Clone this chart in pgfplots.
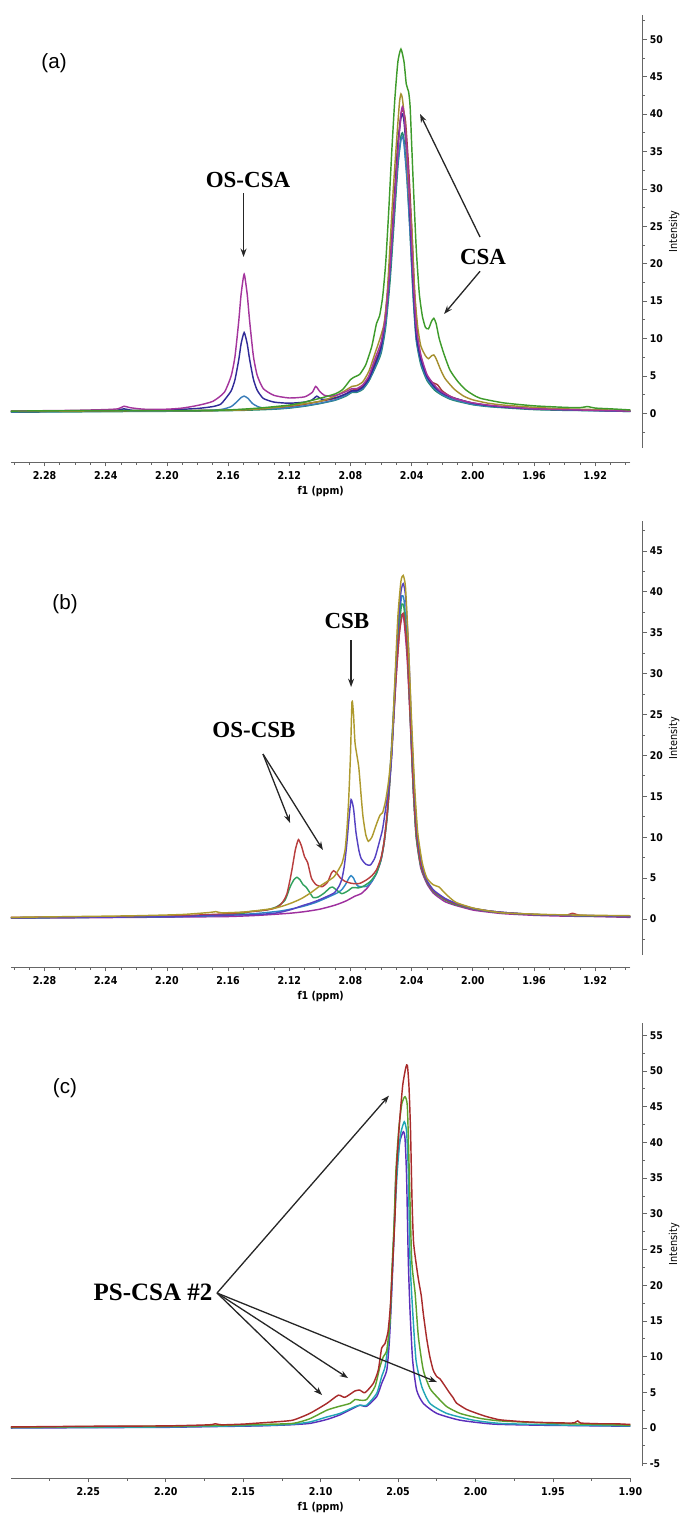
\documentclass[border=0pt]{standalone}
\usepackage{fontspec}
\setmainfont{Liberation Serif}
\newfontfamily\axfont{DejaVu Sans}[FakeStretch=0.88]
\newfontfamily\panfont{Liberation Sans}
\usepackage{pgfplots}
\pgfplotsset{compat=1.18}
\usetikzlibrary{arrows.meta}

\definecolor{agreen}{HTML}{3E9B2B}
\definecolor{agold}{HTML}{A58F2F}
\definecolor{amag}{HTML}{A4359D}
\definecolor{anavy}{HTML}{302A98}
\definecolor{asteel}{HTML}{3A7DB8}
\definecolor{ared}{HTML}{A33B3B}
\definecolor{ateal}{HTML}{23896B}
\definecolor{bgold}{HTML}{AE9A2E}
\definecolor{bblue}{HTML}{5542C2}
\definecolor{bred}{HTML}{B83E3E}
\definecolor{bgreen}{HTML}{31A15E}
\definecolor{bsteel}{HTML}{2F88C6}
\definecolor{bmag}{HTML}{9E2F9E}
\definecolor{cred}{HTML}{A82B2B}
\definecolor{cgreen}{HTML}{5DA12D}
\definecolor{ccyan}{HTML}{22A6B6}
\definecolor{cpurple}{HTML}{5B2FBB}

\newcommand\tickfont{\axfont\bfseries\fontsize{5.4}{6}\selectfont}

\tikzset{
  annot/.style={font=\bfseries\fontsize{11.5}{12}\selectfont},
  panel/.style={font=\panfont\fontsize{10.3}{11}\selectfont},
  arr/.style={-{Stealth[length=4.2pt,width=3pt]}, line width=0.65pt, black!85},
}

\pgfplotsset{
  nmr/.style={scale only axis, width=309.75pt, x dir=reverse,
    axis x line*=bottom, axis y line=none,
    axis line style={-,black!60,line width=0.5pt},
    xtick align=outside, major tick length=2.2pt, minor tick length=1.3pt,
    tick style={black!60,line width=0.4pt},
    /pgf/number format/assume math mode=true,
    xticklabel style={font=\tickfont, inner sep=0pt, yshift=-2.2pt},
    xticklabel={\pgfmathprintnumber[fixed,fixed zerofill,precision=2]{\tick}},
    xlabel={f1 (ppm)},
    xlabel style={font=\tickfont, at={(axis description cs:0.5,0)}, anchor=center, yshift=-15pt},
    clip=false,
    every axis plot/.append style={line width=0.72pt, smooth, tension=0.35, mark=none}},
  yside/.style={scale only axis, width=20pt, xmin=0, xmax=1,
    axis x line=none, axis y line*=right,
    axis line style={-,black!60,line width=0.5pt},
    ytick align=outside, major tick length=2.2pt, minor tick length=1.3pt,
    tick style={black!60,line width=0.4pt},
    /pgf/number format/assume math mode=true,
    yticklabel style={font=\axfont\bfseries\fontsize{5.3}{6}\selectfont, inner sep=0pt, anchor=west, xshift=1.2pt}},
}

\begin{document}
\begin{tikzpicture}

% ---------------- (a) ----------------
\begin{axis}[nmr, at={(5.45pt,-231pt)}, anchor=south west, height=223.5pt,
  xmin=1.897, xmax=2.302, ymin=-6.51, ymax=53.25,
  xtick={1.92,1.96,2.00,2.04,2.08,2.12,2.16,2.20,2.24,2.28},
  minor xtick={1.90,1.91,...,2.30}]
\addplot[ateal] coordinates {(2.302,0.15) (2.26,0.2) (2.22,0.25) (2.18,0.3) (2.15,0.4) (2.13,0.55) (2.12,0.7) (2.11,0.95) (2.10,1.3) (2.09,1.75) (2.083,2.3) (2.079,2.8) (2.076,2.8) (2.072,3.2) (2.068,4.3) (2.064,6.0) (2.060,8.0) (2.057,11.5) (2.054,18) (2.051,27) (2.049,33) (2.047,37) (2.046,37.5) (2.045,36.5) (2.043,31.5) (2.041,24) (2.039,15.5) (2.037,9.8) (2.034,6.5) (2.030,4.4) (2.025,3.1) (2.020,2.4) (2.015,1.9) (2.010,1.6) (2.0,1.15) (1.99,0.9) (1.98,0.75) (1.96,0.5) (1.94,0.4) (1.92,0.35) (1.897,0.25)};
\addplot[ared] coordinates {(2.302,0.25) (2.25,0.3) (2.20,0.35) (2.17,0.4) (2.15,0.5) (2.13,0.7) (2.12,0.9) (2.11,1.2) (2.10,1.6) (2.09,2.0) (2.083,2.6) (2.079,3.1) (2.076,3.2) (2.072,3.6) (2.068,4.8) (2.064,6.8) (2.060,9.0) (2.057,13.5) (2.054,20.5) (2.051,30) (2.049,36) (2.047,40) (2.0455,40.5) (2.044,39) (2.042,33) (2.040,25) (2.038,16) (2.036,10) (2.033,6.5) (2.030,5.0) (2.027,4.2) (2.025,4.0) (2.023,3.8) (2.020,3.0) (2.015,2.3) (2.010,1.9) (2.0,1.35) (1.99,1.05) (1.98,0.85) (1.96,0.6) (1.94,0.5) (1.92,0.4) (1.897,0.3)};
\addplot[asteel] coordinates {(2.302,0.2) (2.26,0.25) (2.23,0.3) (2.228,0.45) (2.224,0.3) (2.20,0.3) (2.18,0.35) (2.165,0.5) (2.158,0.9) (2.154,1.6) (2.1515,2.1) (2.1495,2.3) (2.147,2.0) (2.144,1.3) (2.14,0.85) (2.135,0.65) (2.13,0.6) (2.12,0.75) (2.11,1.0) (2.10,1.35) (2.09,1.8) (2.083,2.4) (2.079,2.9) (2.076,2.9) (2.072,3.3) (2.068,4.4) (2.064,6.2) (2.060,8.3) (2.057,12) (2.054,19) (2.051,28) (2.049,33.5) (2.047,36.5) (2.046,37) (2.045,36) (2.043,31) (2.041,24) (2.039,16) (2.037,10) (2.034,6.8) (2.030,4.6) (2.025,3.3) (2.020,2.5) (2.015,2.0) (2.010,1.7) (2.0,1.2) (1.99,0.95) (1.98,0.8) (1.96,0.55) (1.94,0.45) (1.92,0.35) (1.897,0.25)};
\addplot[anavy] coordinates {(2.302,0.25) (2.26,0.3) (2.235,0.35) (2.228,0.6) (2.222,0.4) (2.20,0.45) (2.18,0.65) (2.17,0.9) (2.165,1.2) (2.1625,1.75) (2.158,3.0) (2.1555,4.5) (2.153,7.2) (2.1515,9.3) (2.1495,10.8) (2.1475,9.3) (2.146,7.3) (2.1435,4.6) (2.141,3.1) (2.137,2.0) (2.13,1.5) (2.12,1.35) (2.11,1.5) (2.105,1.8) (2.102,2.3) (2.099,1.9) (2.094,1.9) (2.088,2.2) (2.083,2.6) (2.079,3.0) (2.076,3.0) (2.072,3.5) (2.068,4.6) (2.064,6.5) (2.060,8.8) (2.057,13) (2.054,20) (2.051,29.5) (2.049,36) (2.047,39.5) (2.046,40) (2.045,39) (2.043,34) (2.041,26) (2.039,17) (2.037,10.5) (2.034,7.2) (2.030,4.9) (2.025,3.5) (2.020,2.7) (2.015,2.2) (2.010,1.9) (2.000,1.35) (1.99,1.05) (1.98,0.85) (1.96,0.6) (1.94,0.5) (1.92,0.4) (1.897,0.3)};
\addplot[agold] coordinates {(2.302,0.3) (2.26,0.3) (2.22,0.35) (2.18,0.35) (2.15,0.45) (2.13,0.75) (2.12,1.0) (2.10,1.6) (2.09,2.3) (2.083,3.1) (2.079,3.6) (2.076,3.7) (2.072,4.2) (2.068,5.6) (2.064,8.0) (2.061,9.8) (2.058,12) (2.056,16) (2.054,23) (2.052,30) (2.050,36) (2.048,41.5) (2.047,42.7) (2.046,42) (2.044,38) (2.042,30) (2.040,25) (2.038,16) (2.036,11.5) (2.034,9) (2.031,7.7) (2.029,7.3) (2.027,7.7) (2.0255,7.8) (2.024,7.3) (2.021,5.8) (2.018,4.6) (2.012,3.2) (2.006,2.3) (2.000,1.8) (1.99,1.35) (1.98,1.1) (1.96,0.8) (1.94,0.6) (1.92,0.5) (1.897,0.35)};
\addplot[amag] coordinates {(2.302,0.3) (2.28,0.35) (2.26,0.4) (2.24,0.5) (2.232,0.6) (2.228,0.95) (2.224,0.75) (2.215,0.55) (2.20,0.55) (2.19,0.7) (2.18,1.05) (2.17,1.6) (2.1625,2.8) (2.158,5.0) (2.1555,7.6) (2.153,12.4) (2.1515,15.9) (2.1495,18.6) (2.1475,15.9) (2.146,12.5) (2.1435,7.7) (2.141,5.1) (2.137,3.3) (2.13,2.4) (2.12,2.05) (2.11,2.2) (2.105,2.8) (2.1027,3.6) (2.100,2.9) (2.097,2.4) (2.093,2.3) (2.088,2.5) (2.083,2.9) (2.079,3.3) (2.076,3.3) (2.072,3.8) (2.068,5.0) (2.064,7.3) (2.060,9.5) (2.057,13) (2.054,20) (2.051,29) (2.049,35) (2.047,40) (2.046,41) (2.045,40) (2.043,35) (2.041,27) (2.039,18) (2.037,11.5) (2.034,7.8) (2.030,5.2) (2.026,4.0) (2.022,3.1) (2.018,2.6) (2.012,2.0) (2.005,1.6) (2.0,1.4) (1.99,1.1) (1.98,0.9) (1.96,0.6) (1.94,0.5) (1.92,0.4) (1.897,0.3)};
\addplot[agreen] coordinates {(2.302,0.3) (2.26,0.35) (2.22,0.35) (2.19,0.35) (2.16,0.45) (2.14,0.7) (2.12,1.1) (2.11,1.5) (2.10,2.0) (2.09,2.6) (2.085,3.2) (2.080,4.5) (2.077,4.9) (2.074,5.2) (2.070,6.5) (2.066,9.0) (2.063,12.0) (2.061,13.0) (2.059,15.5) (2.057,20) (2.055,27) (2.053,35) (2.051,42) (2.049,47) (2.047,48.7) (2.045,47) (2.0435,44) (2.042,43) (2.041,41) (2.040,36) (2.039,31) (2.037,22) (2.035,16) (2.033,13) (2.031,11.5) (2.029,11.3) (2.027,12.3) (2.0255,12.7) (2.024,12.0) (2.022,10) (2.019,8.0) (2.015,5.8) (2.010,4.3) (2.005,3.2) (2.000,2.5) (1.995,2.0) (1.98,1.4) (1.96,1.0) (1.94,0.8) (1.93,0.75) (1.925,0.9) (1.92,0.7) (1.91,0.6) (1.897,0.45)};
\node[panel] at (axis cs:2.2738,46.83) {(a)};
\node[annot] at (axis cs:2.147,31.19) {OS-CSA};
\draw[arr] (axis cs:2.1499,29.45) -- (axis cs:2.1499,20.9);
\node[annot] at (axis cs:1.9933,20.9) {CSA};
\draw[arr] (axis cs:1.9953,23.57) -- (axis cs:2.0345,40.01);
\draw[arr] (axis cs:1.9953,18.99) -- (axis cs:2.0188,13.28);
\end{axis}
\begin{axis}[yside, at={(321.3pt,-224pt)}, anchor=south east, height=216.5pt,
  ymin=-4.64, ymax=53.25, ytick={0,5,...,50}, minor ytick={-2.5,2.5,...,52.5}]
\end{axis}

% ---------------- (b) ----------------
\begin{axis}[nmr, at={(5.45pt,-483.5pt)}, anchor=south west, height=223pt,
  xmin=1.897, xmax=2.302, ymin=-5.87, ymax=48.66,
  xtick={1.92,1.96,2.00,2.04,2.08,2.12,2.16,2.20,2.24,2.28},
  minor xtick={1.90,1.91,...,2.30}]
\addplot[bmag] coordinates {(2.302,0.1) (2.26,0.15) (2.22,0.2) (2.19,0.25) (2.16,0.3) (2.14,0.45) (2.12,0.7) (2.11,0.9) (2.10,1.2) (2.09,1.7) (2.083,2.2) (2.077,2.8) (2.073,3.1) (2.069,3.8) (2.066,4.6) (2.063,5.6) (2.060,7.2) (2.058,9.3) (2.056,12.5) (2.054,17.5) (2.052,23.5) (2.050,30) (2.048,35) (2.0465,37.2) (2.045,36.5) (2.043,32) (2.041,24.5) (2.039,16) (2.037,10) (2.034,6.2) (2.030,4.3) (2.026,3.2) (2.022,2.6) (2.018,2.1) (2.012,1.7) (2.0,1.1) (1.99,0.85) (1.98,0.65) (1.96,0.45) (1.94,0.35) (1.92,0.3) (1.897,0.2)};
\addplot[bsteel] coordinates {(2.302,0.15) (2.26,0.2) (2.22,0.25) (2.19,0.3) (2.16,0.45) (2.14,0.7) (2.125,1.0) (2.112,1.5) (2.103,2.0) (2.0955,2.6) (2.0885,3.2) (2.0856,3.6) (2.083,4.3) (2.081,5.0) (2.0796,5.3) (2.078,5.0) (2.0765,4.4) (2.0749,4.0) (2.0694,4.0) (2.066,4.6) (2.063,5.6) (2.060,7.3) (2.058,9.5) (2.056,13) (2.054,18.5) (2.052,25) (2.050,32) (2.048,37) (2.0465,39.5) (2.045,39) (2.043,34) (2.041,25.5) (2.039,16.5) (2.037,10.3) (2.034,6.5) (2.030,4.6) (2.026,3.5) (2.022,2.9) (2.018,2.4) (2.012,1.9) (2.0,1.3) (1.99,1.0) (1.98,0.8) (1.96,0.55) (1.94,0.45) (1.92,0.4) (1.897,0.3)};
\addplot[bgreen] coordinates {(2.302,0.15) (2.26,0.2) (2.22,0.25) (2.19,0.35) (2.165,0.5) (2.15,0.7) (2.1457,0.9) (2.135,1.1) (2.1282,1.5) (2.1228,2.3) (2.1195,3.9) (2.117,4.8) (2.115,5.1) (2.113,4.8) (2.111,4.2) (2.109,3.9) (2.1065,3.2) (2.1043,2.6) (2.101,2.7) (2.097,3.2) (2.0935,3.8) (2.0916,3.9) (2.0895,3.6) (2.0857,3.1) (2.082,3.4) (2.0786,3.85) (2.075,3.8) (2.0716,4.0) (2.067,4.6) (2.063,5.6) (2.060,7.3) (2.058,9.3) (2.056,12.5) (2.054,17.5) (2.052,24) (2.050,31) (2.048,36) (2.0465,38.5) (2.045,38) (2.043,33.5) (2.041,25) (2.039,16) (2.037,10) (2.034,6.4) (2.030,4.5) (2.026,3.4) (2.022,2.8) (2.018,2.3) (2.012,1.8) (2.0,1.25) (1.99,0.95) (1.98,0.75) (1.96,0.55) (1.94,0.45) (1.92,0.35) (1.897,0.3)};
\addplot[bred] coordinates {(2.302,0.2) (2.26,0.25) (2.22,0.3) (2.19,0.4) (2.178,0.5) (2.165,0.6) (2.157,0.7) (2.145,0.9) (2.135,1.1) (2.13,1.3) (2.126,1.7) (2.1235,2.3) (2.1215,3.1) (2.1195,4.8) (2.118,6.3) (2.116,8.5) (2.114,9.7) (2.112,8.9) (2.110,7.6) (2.108,6.9) (2.1055,5.0) (2.1025,4.2) (2.0985,3.95) (2.095,4.5) (2.0925,5.6) (2.091,5.9) (2.089,5.6) (2.0865,5.0) (2.0835,4.6) (2.079,4.35) (2.074,4.35) (2.0694,4.8) (2.066,5.3) (2.063,6.0) (2.060,7.5) (2.058,9.5) (2.056,13) (2.054,18) (2.052,24) (2.050,30) (2.048,35) (2.046,37.3) (2.045,37) (2.043,33) (2.041,25) (2.039,16.5) (2.037,10.5) (2.034,6.6) (2.030,4.6) (2.026,3.5) (2.022,2.9) (2.018,2.4) (2.012,1.9) (2.0,1.3) (1.99,1.0) (1.98,0.8) (1.96,0.55) (1.94,0.45) (1.935,0.7) (1.93,0.45) (1.92,0.4) (1.897,0.3)};
\addplot[bblue] coordinates {(2.302,0.15) (2.26,0.2) (2.22,0.25) (2.19,0.3) (2.17,0.45) (2.15,0.5) (2.14,0.55) (2.13,0.7) (2.124,0.9) (2.118,1.2) (2.112,1.6) (2.106,1.95) (2.101,2.3) (2.096,2.7) (2.0906,3.2) (2.0875,4.0) (2.0856,4.9) (2.084,6.5) (2.0825,9.0) (2.081,12.2) (2.0796,14.6) (2.078,13.5) (2.0764,10.6) (2.0745,8.4) (2.073,7.4) (2.070,6.7) (2.067,6.6) (2.064,7.5) (2.061,9.5) (2.059,11) (2.057,13.5) (2.055,16) (2.053,20) (2.051,28) (2.049,35.5) (2.047,40) (2.0455,41) (2.044,39.5) (2.042,33) (2.040,23) (2.038,15) (2.036,9.8) (2.033,6.4) (2.030,4.7) (2.026,3.6) (2.022,3.0) (2.018,2.5) (2.012,2.0) (2.0,1.3) (1.99,1.0) (1.98,0.8) (1.96,0.55) (1.94,0.45) (1.92,0.4) (1.897,0.3)};
\addplot[bgold] coordinates {(2.302,0.2) (2.26,0.3) (2.22,0.4) (2.19,0.55) (2.172,0.8) (2.168,0.9) (2.164,0.75) (2.15,0.85) (2.14,1.05) (2.13,1.3) (2.124,1.6) (2.118,2.0) (2.112,2.5) (2.106,3.2) (2.101,3.9) (2.096,4.5) (2.0906,5.2) (2.0856,6.8) (2.0835,8.5) (2.0823,11) (2.0812,14.5) (2.080,20) (2.079,26.6) (2.078,25) (2.077,21.5) (2.0746,18.6) (2.073,15) (2.0718,12.5) (2.070,10.3) (2.0683,9.5) (2.066,10.0) (2.063,11.6) (2.0607,12.7) (2.059,13) (2.057,14.5) (2.055,17) (2.053,21) (2.051,29) (2.049,37) (2.047,41.3) (2.0455,42) (2.044,40.5) (2.042,33) (2.040,24) (2.038,16) (2.036,10.5) (2.033,6.8) (2.030,5.0) (2.026,4.2) (2.022,3.9) (2.019,3.3) (2.015,2.6) (2.0107,2.0) (2.0,1.35) (1.99,1.0) (1.98,0.75) (1.96,0.6) (1.94,0.5) (1.92,0.45) (1.897,0.4)};
\node[panel] at (axis cs:2.2666,38.51) {(b)};
\node[annot] at (axis cs:2.0823,36.43) {CSB};
\draw[arr] (axis cs:2.0796,34.11) -- (axis cs:2.0796,28.36);
\node[annot] at (axis cs:2.1431,23.1) {OS-CSB};
\draw[arr] (axis cs:2.1372,20.17) -- (axis cs:2.1195,11.74);
\draw[arr] (axis cs:2.1372,20.17) -- (axis cs:2.098,8.44);
\end{axis}
\begin{axis}[yside, at={(321.3pt,-477.5pt)}, anchor=south east, height=217pt,
  ymin=-4.40, ymax=48.66, ytick={0,5,...,45}, minor ytick={-2.5,2.5,...,47.5}]
\end{axis}

% ---------------- (c) ----------------
\begin{axis}[nmr, at={(5.45pt,-739pt)}, anchor=south west, height=227.6pt,
  xmin=1.90, xmax=2.30, ymin=-7.0, ymax=56.75,
  xtick={1.90,1.95,2.00,2.05,2.10,2.15,2.20,2.25},
  minor xtick={1.925,1.975,2.025,2.075,2.125,2.175,2.225,2.275}]
\addplot[cpurple] coordinates {(2.30,0.0) (2.25,0.05) (2.20,0.1) (2.17,0.2) (2.14,0.3) (2.12,0.45) (2.107,0.65) (2.096,1.2) (2.0875,1.85) (2.0778,2.9) (2.0746,3.2) (2.0703,3.05) (2.0638,4.4) (2.0606,6.25) (2.0573,8.1) (2.0557,11.9) (2.0545,17) (2.053,25) (2.0514,35.2) (2.049,40) (2.0466,41.5) (2.0455,40.5) (2.0445,35.2) (2.0434,23.5) (2.0423,16.5) (2.0406,9.5) (2.038,5.3) (2.0337,3.45) (2.025,2.05) (2.01,1.1) (1.9885,0.55) (1.96,0.4) (1.94,0.35) (1.92,0.3) (1.90,0.25)};
\addplot[ccyan] coordinates {(2.30,0.05) (2.25,0.1) (2.20,0.15) (2.17,0.25) (2.14,0.35) (2.12,0.5) (2.107,0.85) (2.096,1.55) (2.0875,2.05) (2.0778,3.0) (2.0746,3.2) (2.0703,3.2) (2.0638,4.85) (2.0606,7.2) (2.0584,8.6) (2.0563,11.9) (2.055,16) (2.0535,23) (2.052,30) (2.0505,36) (2.0485,41) (2.046,42.9) (2.0445,41.5) (2.0434,36) (2.0423,23.5) (2.0406,16.5) (2.0384,9.5) (2.0347,5.8) (2.0294,3.45) (2.0186,2.05) (2.0014,1.1) (1.9842,0.65) (1.96,0.5) (1.94,0.4) (1.92,0.35) (1.90,0.3)};
\addplot[cgreen] coordinates {(2.30,0.1) (2.25,0.2) (2.20,0.25) (2.17,0.35) (2.14,0.5) (2.118,0.65) (2.107,1.3) (2.096,2.5) (2.0886,3.0) (2.081,3.45) (2.0778,4.0) (2.0746,3.9) (2.0703,4.0) (2.0649,5.8) (2.0617,8.6) (2.0595,10.0) (2.0573,10.9) (2.0552,15.1) (2.054,22) (2.0525,29) (2.0514,36) (2.0495,42) (2.0475,45.5) (2.0455,46.4) (2.044,45) (2.0428,36) (2.0412,23.5) (2.039,18.9) (2.0369,12.8) (2.0337,8.1) (2.0294,5.55) (2.025,4.4) (2.0186,3.0) (2.01,2.05) (1.997,1.35) (1.9842,1.0) (1.96,0.75) (1.94,0.6) (1.92,0.5) (1.90,0.4)};
\addplot[cred] coordinates {(2.30,0.15) (2.25,0.25) (2.20,0.3) (2.172,0.45) (2.168,0.6) (2.164,0.45) (2.15,0.55) (2.14,0.7) (2.13,0.85) (2.118,1.1) (2.107,2.05) (2.096,3.45) (2.0886,4.6) (2.0843,4.3) (2.0778,5.2) (2.0746,5.3) (2.0714,4.95) (2.066,6.25) (2.0628,8.1) (2.0606,11.2) (2.0585,11.8) (2.0565,13.5) (2.055,17) (2.0535,23) (2.052,29.6) (2.0509,36.6) (2.049,43) (2.047,48) (2.045,50.5) (2.044,50.8) (2.043,48) (2.042,42) (2.041,32) (2.040,26) (2.038,22.5) (2.0367,20.6) (2.035,18.5) (2.0337,16) (2.0315,12.5) (2.0295,10) (2.0273,8.1) (2.025,7.2) (2.023,6.9) (2.0207,6.2) (2.017,5.0) (2.0143,4.2) (2.0123,3.5) (2.0057,2.6) (1.9984,2.0) (1.9928,1.6) (1.9842,1.15) (1.97,0.9) (1.96,0.8) (1.94,0.7) (1.936,0.75) (1.934,1.0) (1.932,0.7) (1.92,0.6) (1.91,0.6) (1.90,0.5)};
\node[panel] at (axis cs:2.2651,47.62) {(c)};
\node[annot, font=\bfseries\fontsize{12.5}{13}\selectfont] at (axis cs:2.2082,19.05) {PS-CSA \#2};
\draw[arr] (axis cs:2.1669,18.91) -- (axis cs:2.0559,46.55);
\draw[arr] (axis cs:2.1669,18.91) -- (axis cs:2.0991,4.62);
\draw[arr] (axis cs:2.1669,18.91) -- (axis cs:2.0823,7.0);
\draw[arr] (axis cs:2.1669,18.91) -- (axis cs:2.0249,6.44);
\end{axis}
\begin{axis}[yside, at={(321.3pt,-733pt)}, anchor=south east, height=221.6pt,
  ymin=-5.32, ymax=56.75, ytick={-5,0,...,55}, minor ytick={-2.5,2.5,...,52.5}]
\end{axis}

\node[rotate=90, font=\axfont\fontsize{5.5}{6}\selectfont] at (337pt,-115.75pt) {Intensity};
\node[rotate=90, font=\axfont\fontsize{5.5}{6}\selectfont] at (337pt,-369pt) {Intensity};
\node[rotate=90, font=\axfont\fontsize{5.5}{6}\selectfont] at (337pt,-622pt) {Intensity};

\pgfresetboundingbox
\path (0pt,0pt) rectangle (340.5pt,-758.5pt);
\end{tikzpicture}
\end{document}
